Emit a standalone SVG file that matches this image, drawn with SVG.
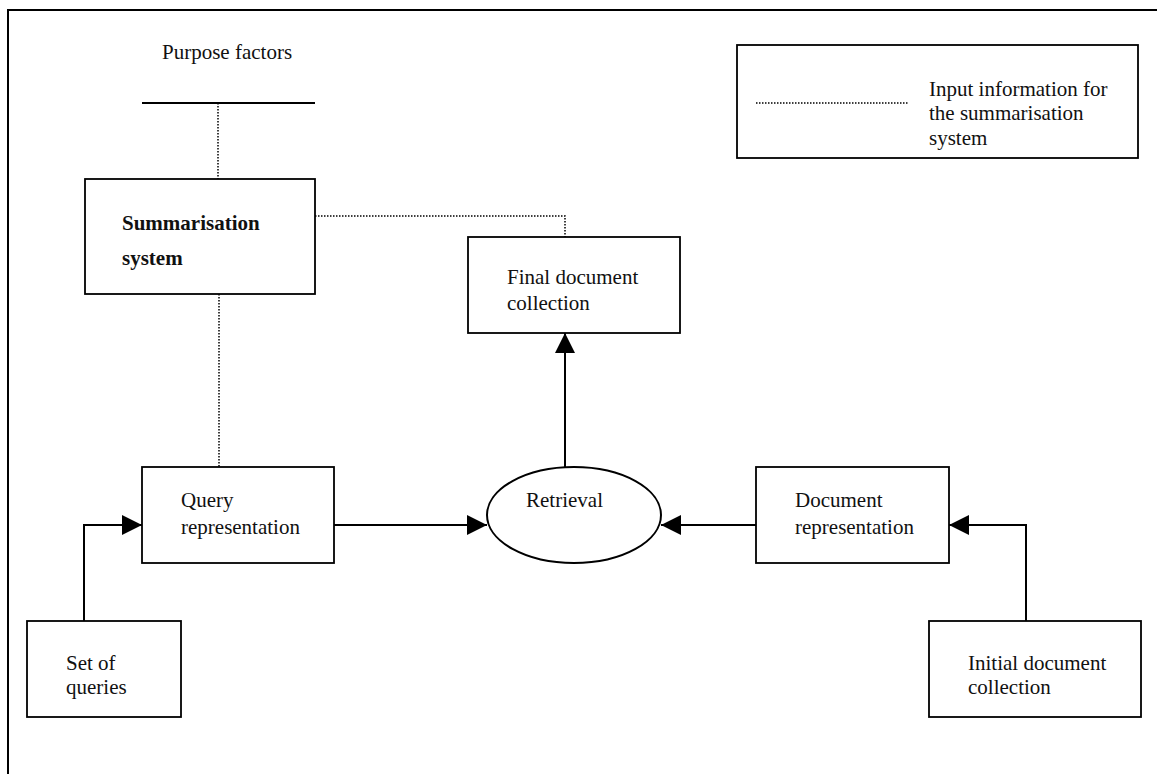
<svg xmlns="http://www.w3.org/2000/svg" width="1157" height="774" viewBox="0 0 1157 774">
<style>
.box{fill:#fff;stroke:#000;stroke-width:1.8}
.t{font-family:"Liberation Serif","Times New Roman",serif;font-size:21px;fill:#111}
.b{font-weight:bold}
.con{fill:none;stroke:#000;stroke-width:2}
.dot{fill:none;stroke:#000;stroke-width:1.5;stroke-dasharray:1.5 1.5}
</style>
<defs>
<marker id="ah" markerUnits="userSpaceOnUse" markerWidth="20" markerHeight="20" refX="20" refY="10" orient="auto">
<path d="M0,0 L20,10 L0,20 z" fill="#000"/>
</marker>
</defs>
<rect width="1157" height="774" fill="#fff"/>
<g id="frame">
<path d="M8,774 V10 H1157" fill="none" stroke="#000" stroke-width="2"/>
</g>
<g id="purpose">
<text class="t" x="162" y="59">Purpose factors</text>
<line x1="142" y1="103" x2="315" y2="103" stroke="#000" stroke-width="2"/>
</g>
<g id="connectors">
<path class="dot" d="M218,103 V179"/>
<path class="dot" d="M315,216 H565 V237"/>
<path class="dot" d="M219,294 V467"/>
<path class="con" d="M565,467 V333" marker-end="url(#ah)"/>
<path class="con" d="M84,621 V525 H142" marker-end="url(#ah)"/>
<path class="con" d="M334,525 H487" marker-end="url(#ah)"/>
<path class="con" d="M756,525 H661" marker-end="url(#ah)"/>
<path class="con" d="M1026,621 V525 H949" marker-end="url(#ah)"/>
</g>
<g id="summarisation">
<rect class="box" x="85" y="179" width="230" height="115"/>
<text class="t b" x="122" y="230">Summarisation</text>
<text class="t b" x="122" y="265">system</text>
</g>
<g id="final">
<rect class="box" x="468" y="237" width="212" height="96"/>
<text class="t" x="507" y="284">Final document</text>
<text class="t" x="507" y="310">collection</text>
</g>
<g id="query">
<rect class="box" x="142" y="467" width="192" height="96"/>
<text class="t" x="181" y="507">Query</text>
<text class="t" x="181" y="534">representation</text>
</g>
<g id="retrieval">
<ellipse cx="574" cy="515" rx="87" ry="48" fill="#fff" stroke="#000" stroke-width="2"/>
<text class="t" x="526" y="507">Retrieval</text>
</g>
<g id="docrep">
<rect class="box" x="756" y="467" width="193" height="96"/>
<text class="t" x="795" y="507">Document</text>
<text class="t" x="795" y="534">representation</text>
</g>
<g id="queries">
<rect class="box" x="27" y="621" width="154" height="96"/>
<text class="t" x="66" y="670">Set of</text>
<text class="t" x="66" y="694">queries</text>
</g>
<g id="initial">
<rect class="box" x="929" y="621" width="212" height="96"/>
<text class="t" x="968" y="670">Initial document</text>
<text class="t" x="968" y="694">collection</text>
</g>
<g id="legend">
<rect class="box" x="737" y="45" width="401" height="113"/>
<line class="dot" x1="756" y1="103" x2="908" y2="103"/>
<text class="t" x="929" y="96">Input information for</text>
<text class="t" x="929" y="120">the summarisation</text>
<text class="t" x="929" y="145">system</text>
</g>
</svg>
